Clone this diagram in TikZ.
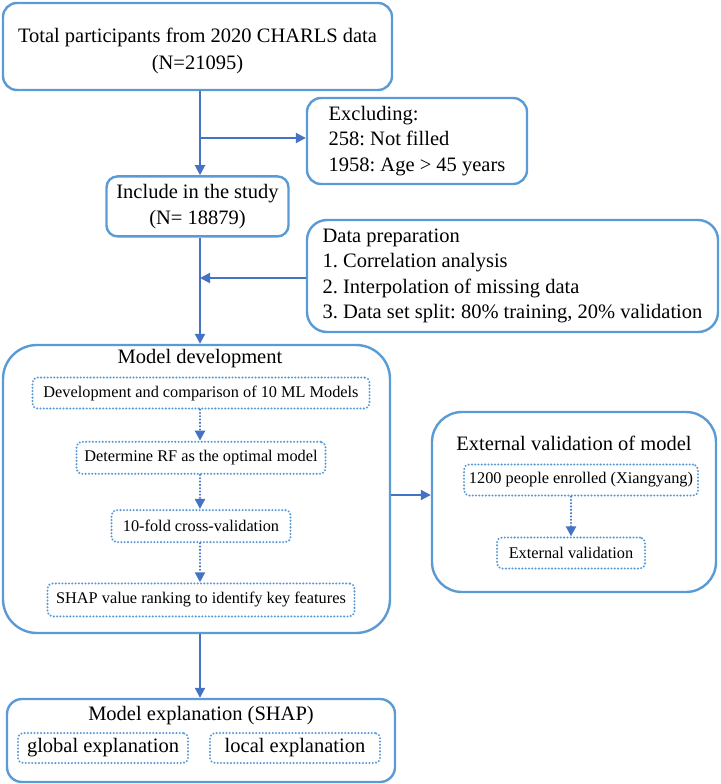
\documentclass[tikz,border=0pt]{standalone}
\usepackage{fontspec}
\setmainfont{Liberation Serif}
\usepackage{tikz}
\usetikzlibrary{arrows.meta, positioning}

\definecolor{boxblue}{RGB}{91,155,213}
\definecolor{arrowblue}{RGB}{68,114,196}
\newcommand\mainsize{\fontsize{20.5}{25.5}\selectfont}
\newcommand\subsize{\fontsize{16.3}{20}\selectfont}
\frenchspacing

\begin{document}
\begin{tikzpicture}[
	x=1pt, y=-1pt,
	every node/.style={font=\mainsize, text=black},
	mainbox/.style={draw=boxblue, line width=2.4pt, rounded corners=14pt, inner sep=0pt, align=center},
	listbox/.style={mainbox, align=left},
	groupbox/.style={draw=boxblue, line width=2.4pt, rounded corners=34pt, inner sep=0pt},
	dotbox/.style={draw=boxblue, line width=2.3pt, dash pattern=on 0pt off 3.3pt, line cap=round, rounded corners=5pt, inner sep=0pt, font=\subsize},
	arrow/.style={-{Triangle[length=10pt,width=10pt]}, line width=2pt, draw=arrowblue},
	dotarrow/.style={arrow, line width=2.3pt, dash pattern=on 0pt off 3.3pt, line cap=round}
	]
	\useasboundingbox (0,0) rectangle (720,784);
	
	% --- TOP: cohort selection ---
	\node[mainbox, minimum width=389pt, minimum height=87pt] (total) at (197.5,46.5) {\rule{0pt}{24pt}Total participants from 2020 CHARLS data\\[1.5pt](N=21095)};
	\node[listbox, minimum width=220pt, minimum height=86pt] (exclude) at (417,141) {Excluding:\\258: Not filled\\1958: Age > 45 years};
	\node[mainbox, rounded corners=11pt, minimum width=182pt, minimum height=60pt] (include) [below=84pt of total] {Include in the study\\(N= 18879)};
	\node[listbox, rounded corners=20pt, minimum width=411pt, minimum height=112pt] (prep) at (512.5,276) {Data preparation\\1. Correlation analysis\\2. Interpolation of missing data\\3. Data set split: 80\% training, 20\% validation};
	
	% --- MODEL DEVELOPMENT ---
	\node[groupbox, minimum width=387pt, minimum height=288pt] (modeldev) at (196.5,489) {};
	\node (devtitle) at (200,359) {Model development};
	\node[dotbox, minimum width=337pt, minimum height=31pt] (dev1) at (201,393) {Development and comparison of 10 ML Models};
	\node[dotbox, minimum width=249pt, minimum height=32pt] (dev2) [below=31pt of dev1] {Determine RF as the optimal model};
	\node[dotbox, minimum width=179pt, minimum height=32pt] (dev3) [below=34pt of dev2] {10-fold cross-validation};
	\node[dotbox, minimum width=307pt, minimum height=33pt] (dev4) [below=39pt of dev3] {SHAP value ranking to identify key features};
	
	% --- EXTERNAL VALIDATION ---
	\node[groupbox, rounded corners=30pt, minimum width=284pt, minimum height=180pt] (extval) at (574,502) {};
	\node (exttitle) at (574,443) {External validation of model};
	\node[dotbox, minimum width=234pt, minimum height=31pt] (ext1) at (581,480) {1200 people enrolled (Xiangyang)};
	\node[dotbox, minimum width=148pt, minimum height=31pt] (ext2) at (571,553) {External validation};
	
	% --- MODEL EXPLANATION ---
	\node[mainbox, rounded corners=15pt, minimum width=388pt, minimum height=83pt] (explain) at (201,740.5) {};
	\node (exptitle) at (201,716) {Model explanation (SHAP)};
	\node[dotbox, font=\mainsize, minimum width=170pt, minimum height=30pt] (global) at (103,748) {global explanation};
	\node[dotbox, font=\mainsize, minimum width=170pt, minimum height=30pt] (local) at (295,748) {local explanation};
	
	% --- CONNECTORS ---
	\coordinate (split1) at (200,138);
	\coordinate (split2) at (200,278);
	\coordinate (side) at (411,495);
	
	\draw[arrow] (total.south -| split1) -- (include.north -| split1);
	\draw[arrow] (split1) -- (exclude.west |- split1);
	\draw[arrow] (include.south -| split2) -- (modeldev.north -| split2);
	\draw[arrow] (prep.west |- split2) -- (split2);
	\draw[arrow] (modeldev.east |- side) -- (extval.west |- side);
	\draw[arrow] (modeldev.south -| split2) -- (explain.north -| split2);
	
	\draw[dotarrow] (dev1.south -| split2) -- (dev2.north -| split2);
	\draw[dotarrow] (dev2.south -| split2) -- (dev3.north -| split2);
	\draw[dotarrow] (dev3.south -| split2) -- (dev4.north -| split2);
	\draw[dotarrow] (ext1.south -| ext2) -- (ext2.north);
	
\end{tikzpicture}
\end{document}
